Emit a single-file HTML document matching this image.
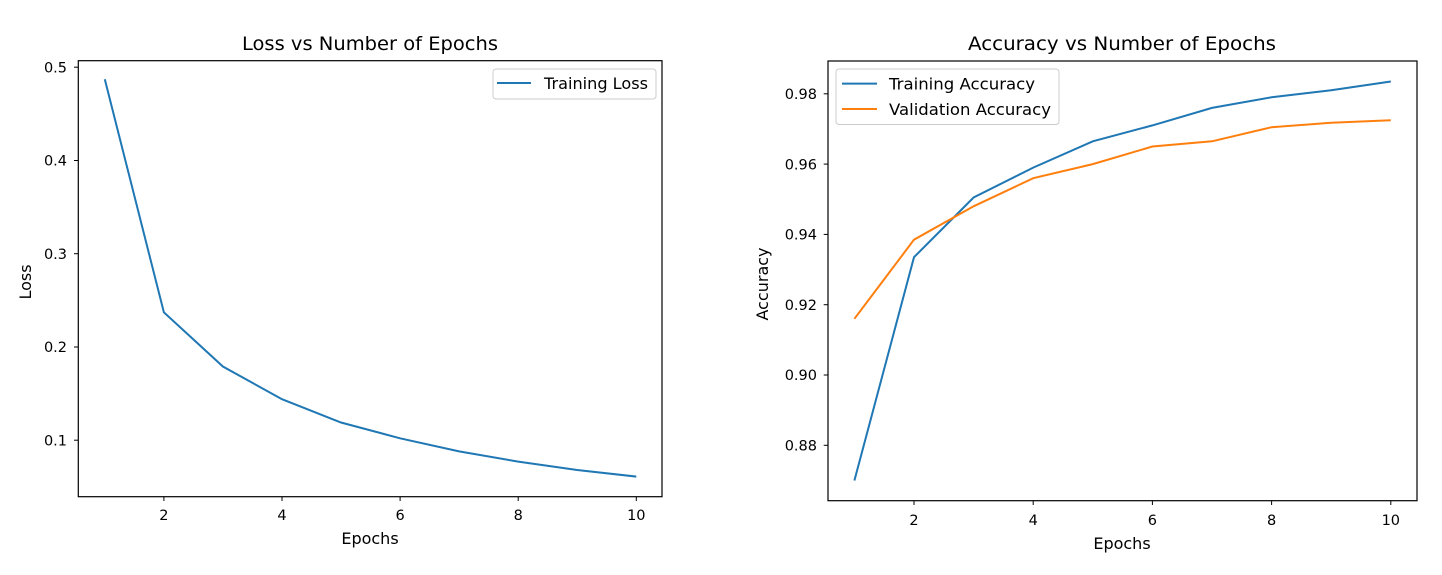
<!DOCTYPE html>
<html><head><meta charset="utf-8"><style>
html,body{margin:0;padding:0;background:#fff;}
svg{display:block;font-family:"DejaVu Sans","Liberation Sans",sans-serif;}
</style></head><body>
<svg width="1442" height="575" viewBox="0 0 1442 575" xmlns="http://www.w3.org/2000/svg">
<rect width="1442" height="575" fill="#fff"/>
<!-- Left plot -->
<text x="370" y="50" font-size="19" text-anchor="middle" fill="#000" textLength="256" lengthAdjust="spacingAndGlyphs">Loss vs Number of Epochs</text>
<polyline fill="none" stroke="#1f77b4" stroke-width="2" points="104.8,79.3 163.9,312.4 222.9,366.5 282,399.2 341,422.5 400.1,438.3 459.1,451.4 518.2,461.6 577.2,470 636.3,476.6"/>
<rect x="78.3" y="60.7" width="583.7" height="436" fill="none" stroke="#000" stroke-width="1.2"/>
<g stroke="#000" stroke-width="1">
<line x1="163.9" y1="496.7" x2="163.9" y2="501"/><line x1="282" y1="496.7" x2="282" y2="501"/><line x1="400.1" y1="496.7" x2="400.1" y2="501"/><line x1="518.2" y1="496.7" x2="518.2" y2="501"/><line x1="636.3" y1="496.7" x2="636.3" y2="501"/>
<line x1="74" y1="67.2" x2="78.3" y2="67.2"/><line x1="74" y1="160.5" x2="78.3" y2="160.5"/><line x1="74" y1="253.7" x2="78.3" y2="253.7"/><line x1="74" y1="347" x2="78.3" y2="347"/><line x1="74" y1="440.2" x2="78.3" y2="440.2"/>
</g>
<g font-size="14.5" fill="#000" text-anchor="middle">
<text x="163.9" y="520">2</text><text x="282" y="520">4</text><text x="400.1" y="520">6</text><text x="518.2" y="520">8</text><text x="636.3" y="520">10</text>
</g>
<g font-size="14.5" fill="#000" text-anchor="end">
<text x="67" y="72.5">0.5</text><text x="67" y="165.5">0.4</text><text x="67" y="259">0.3</text><text x="67" y="352">0.2</text><text x="67" y="445.5">0.1</text>
</g>
<text x="370" y="544" font-size="16" text-anchor="middle" fill="#000">Epochs</text>
<text transform="translate(31,282) rotate(-90)" font-size="16" text-anchor="middle" fill="#000">Loss</text>
<rect x="493" y="69" width="163" height="30" rx="3" fill="#fff" stroke="#ccc" stroke-width="1"/>
<line x1="497" y1="83" x2="531" y2="83" stroke="#1f77b4" stroke-width="2"/>
<text x="544" y="89" font-size="16" fill="#000" textLength="104" lengthAdjust="spacingAndGlyphs">Training Loss</text>

<!-- Right plot -->
<text x="1122" y="50" font-size="19" text-anchor="middle" fill="#000" textLength="308" lengthAdjust="spacingAndGlyphs">Accuracy vs Number of Epochs</text>
<polyline fill="none" stroke="#1f77b4" stroke-width="2" points="854.4,480.5 914,257.2 973.6,197.5 1033.2,167.6 1092.8,141.3 1152.4,125.4 1212,107.9 1271.6,97.3 1331.2,90.3 1390.8,81.5"/>
<polyline fill="none" stroke="#ff7f0e" stroke-width="2" points="854.4,318.8 914,239.7 973.6,206.3 1033.2,178.2 1092.8,164.1 1152.4,146.5 1212,141.3 1271.6,127.2 1331.2,122.7 1390.8,120.2"/>
<rect x="828" y="61" width="589" height="439.7" fill="none" stroke="#000" stroke-width="1.2"/>
<g stroke="#000" stroke-width="1">
<line x1="914" y1="500.7" x2="914" y2="505"/><line x1="1033.2" y1="500.7" x2="1033.2" y2="505"/><line x1="1152.4" y1="500.7" x2="1152.4" y2="505"/><line x1="1271.6" y1="500.7" x2="1271.6" y2="505"/><line x1="1390.8" y1="500.7" x2="1390.8" y2="505"/>
<line x1="823.7" y1="445.3" x2="828" y2="445.3"/><line x1="823.7" y1="375" x2="828" y2="375"/><line x1="823.7" y1="304.7" x2="828" y2="304.7"/><line x1="823.7" y1="234.4" x2="828" y2="234.4"/><line x1="823.7" y1="164.1" x2="828" y2="164.1"/><line x1="823.7" y1="93.8" x2="828" y2="93.8"/>
</g>
<g font-size="14.5" fill="#000" text-anchor="middle">
<text x="914" y="525">2</text><text x="1033.2" y="525">4</text><text x="1152.4" y="525">6</text><text x="1271.6" y="525">8</text><text x="1390.8" y="525">10</text>
</g>
<g font-size="14.5" fill="#000" text-anchor="end">
<text x="817" y="450.5">0.88</text><text x="817" y="380">0.90</text><text x="817" y="310">0.92</text><text x="817" y="239.5">0.94</text><text x="817" y="169.5">0.96</text><text x="817" y="99">0.98</text>
</g>
<text x="1122" y="549" font-size="16" text-anchor="middle" fill="#000">Epochs</text>
<text transform="translate(768,284) rotate(-90)" font-size="16" text-anchor="middle" fill="#000">Accuracy</text>
<rect x="836" y="69" width="223" height="55.5" rx="3" fill="#fff" stroke="#ccc" stroke-width="1"/>
<line x1="842" y1="83.6" x2="877" y2="83.6" stroke="#1f77b4" stroke-width="2"/>
<text x="889" y="89.5" font-size="16" fill="#000" textLength="146" lengthAdjust="spacingAndGlyphs">Training Accuracy</text>
<line x1="842" y1="109" x2="877" y2="109" stroke="#ff7f0e" stroke-width="2"/>
<text x="889" y="115" font-size="16" fill="#000" textLength="162" lengthAdjust="spacingAndGlyphs">Validation Accuracy</text>
</svg>
</body></html>
